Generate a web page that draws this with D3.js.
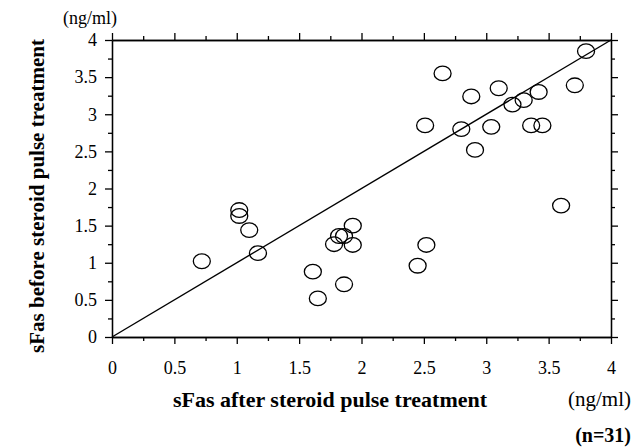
<!DOCTYPE html>
<html>
<head>
<meta charset="utf-8">
<script src="https://cdn.jsdelivr.net/npm/d3@7"></script>
<style>
  body { margin: 0; background: #fff; }
  text { font-family: "Liberation Serif", "Times New Roman", serif; fill: #000; }
</style>
</head>
<body>
<div id="chart"></div>
<script>
// sFas after (x) vs before (y) steroid pulse, ng/ml
var afterVals = [3.80, 2.65, 2.88, 3.10, 3.71, 3.42, 3.30, 3.21, 2.51, 2.80,
  3.04, 3.36, 3.45, 2.91, 3.60, 2.52, 2.45, 1.02, 1.02, 1.10,
  0.72, 1.17, 1.93, 1.82, 1.86, 1.78, 1.93, 1.61, 1.86, 1.65];
var beforeVals = [3.85, 3.55, 3.24, 3.35, 3.39, 3.30, 3.19, 3.13, 2.85, 2.80,
  2.83, 2.85, 2.85, 2.52, 1.77, 1.24, 0.96, 1.71, 1.63, 1.44,
  1.02, 1.13, 1.50, 1.36, 1.36, 1.25, 1.24, 0.88, 0.71, 0.52];
var tickVals = [0, 0.5, 1, 1.5, 2, 2.5, 3, 3.5, 4];
var minorVals = [0.25, 0.75, 1.25, 1.75, 2.25, 2.75, 3.25, 3.75];

var points = afterVals.map(function(d, i) { return {x: d, y: beforeVals[i]}; });

var W = 635, H = 448;
var pLeft = 112, pRight = 611, pTop = 40, pBottom = 337;
var serif = "'Liberation Serif', 'Times New Roman', serif";

var svg = d3.select("#chart").append("svg")
  .attr("width", W)
  .attr("height", H);

var x = d3.scaleLinear().domain([0, 4]).range([pLeft, pRight]);
var y = d3.scaleLinear().domain([0, 4]).range([pBottom, pTop]);

function axisStyle(g) {
  g.attr("font-family", serif).attr("font-size", 18);
  g.select(".domain").attr("stroke", "#000").attr("stroke-width", 1.3);
  g.selectAll(".tick line").attr("stroke", "#000").attr("stroke-width", 1.3);
}

// major ticks
svg.append("g").attr("transform", "translate(0," + pBottom + ")")
  .call(d3.axisBottom(x).tickValues(tickVals).tickSize(7).tickSizeOuter(0).tickFormat(d3.format("")))
  .call(axisStyle)
  .call(function(g) {
    g.selectAll("text").attr("y", 31).attr("dy", "0.35em");
  });
svg.append("g").attr("transform", "translate(0," + pTop + ")")
  .call(d3.axisTop(x).tickValues(tickVals).tickSize(7).tickSizeOuter(0).tickFormat(""))
  .call(axisStyle);
svg.append("g").attr("transform", "translate(" + pLeft + ",0)")
  .call(d3.axisLeft(y).tickValues(tickVals).tickSize(7).tickSizeOuter(0).tickFormat(d3.format("")))
  .call(axisStyle)
  .call(function(g) {
    g.selectAll("text").attr("x", -15);
  });
svg.append("g").attr("transform", "translate(" + pRight + ",0)")
  .call(d3.axisRight(y).tickValues(tickVals).tickSize(7).tickSizeOuter(0).tickFormat(""))
  .call(axisStyle);

// minor ticks
svg.append("g").attr("transform", "translate(0," + pBottom + ")")
  .call(d3.axisBottom(x).tickValues(minorVals).tickSize(4).tickSizeOuter(0).tickFormat(""))
  .call(axisStyle);
svg.append("g").attr("transform", "translate(0," + pTop + ")")
  .call(d3.axisTop(x).tickValues(minorVals).tickSize(4).tickSizeOuter(0).tickFormat(""))
  .call(axisStyle);
svg.append("g").attr("transform", "translate(" + pLeft + ",0)")
  .call(d3.axisLeft(y).tickValues(minorVals).tickSize(4).tickSizeOuter(0).tickFormat(""))
  .call(axisStyle);
svg.append("g").attr("transform", "translate(" + pRight + ",0)")
  .call(d3.axisRight(y).tickValues(minorVals).tickSize(4).tickSizeOuter(0).tickFormat(""))
  .call(axisStyle);

// identity line
svg.append("line")
  .attr("x1", x(0)).attr("y1", y(0))
  .attr("x2", x(4)).attr("y2", y(4))
  .attr("stroke", "#000").attr("stroke-width", 1.4);

svg.selectAll(".pt")
  .data(points)
  .enter()
  .append("ellipse")
    .attr("class", "pt")
    .attr("cx", d => x(d.x))
    .attr("cy", d => y(d.y))
    .attr("rx", 8.5)
    .attr("ry", 7.3)
    .attr("fill", "none")
    .attr("stroke", "#000")
    .attr("stroke-width", 1.3);

// labels
svg.append("text")
  .attr("x", 90).attr("y", 24)
  .attr("text-anchor", "middle")
  .style("font-size", "18px")
  .text("(ng/ml)");

svg.append("text")
  .attr("transform", "translate(44,196) rotate(-90)")
  .attr("text-anchor", "middle")
  .style("font-size", "21px")
  .style("font-weight", "bold")
  .text("sFas before steroid pulse treatment");

svg.append("text")
  .attr("x", 330).attr("y", 407)
  .attr("text-anchor", "middle")
  .style("font-size", "22px")
  .style("font-weight", "bold")
  .text("sFas after steroid pulse treatment");

svg.append("text")
  .attr("x", 631).attr("y", 406)
  .attr("text-anchor", "end")
  .style("font-size", "21px")
  .text("(ng/ml)");

svg.append("text")
  .attr("x", 631).attr("y", 442)
  .attr("text-anchor", "end")
  .style("font-size", "20px")
  .style("font-weight", "bold")
  .text("(n=31)");
</script>
</body>
</html>
